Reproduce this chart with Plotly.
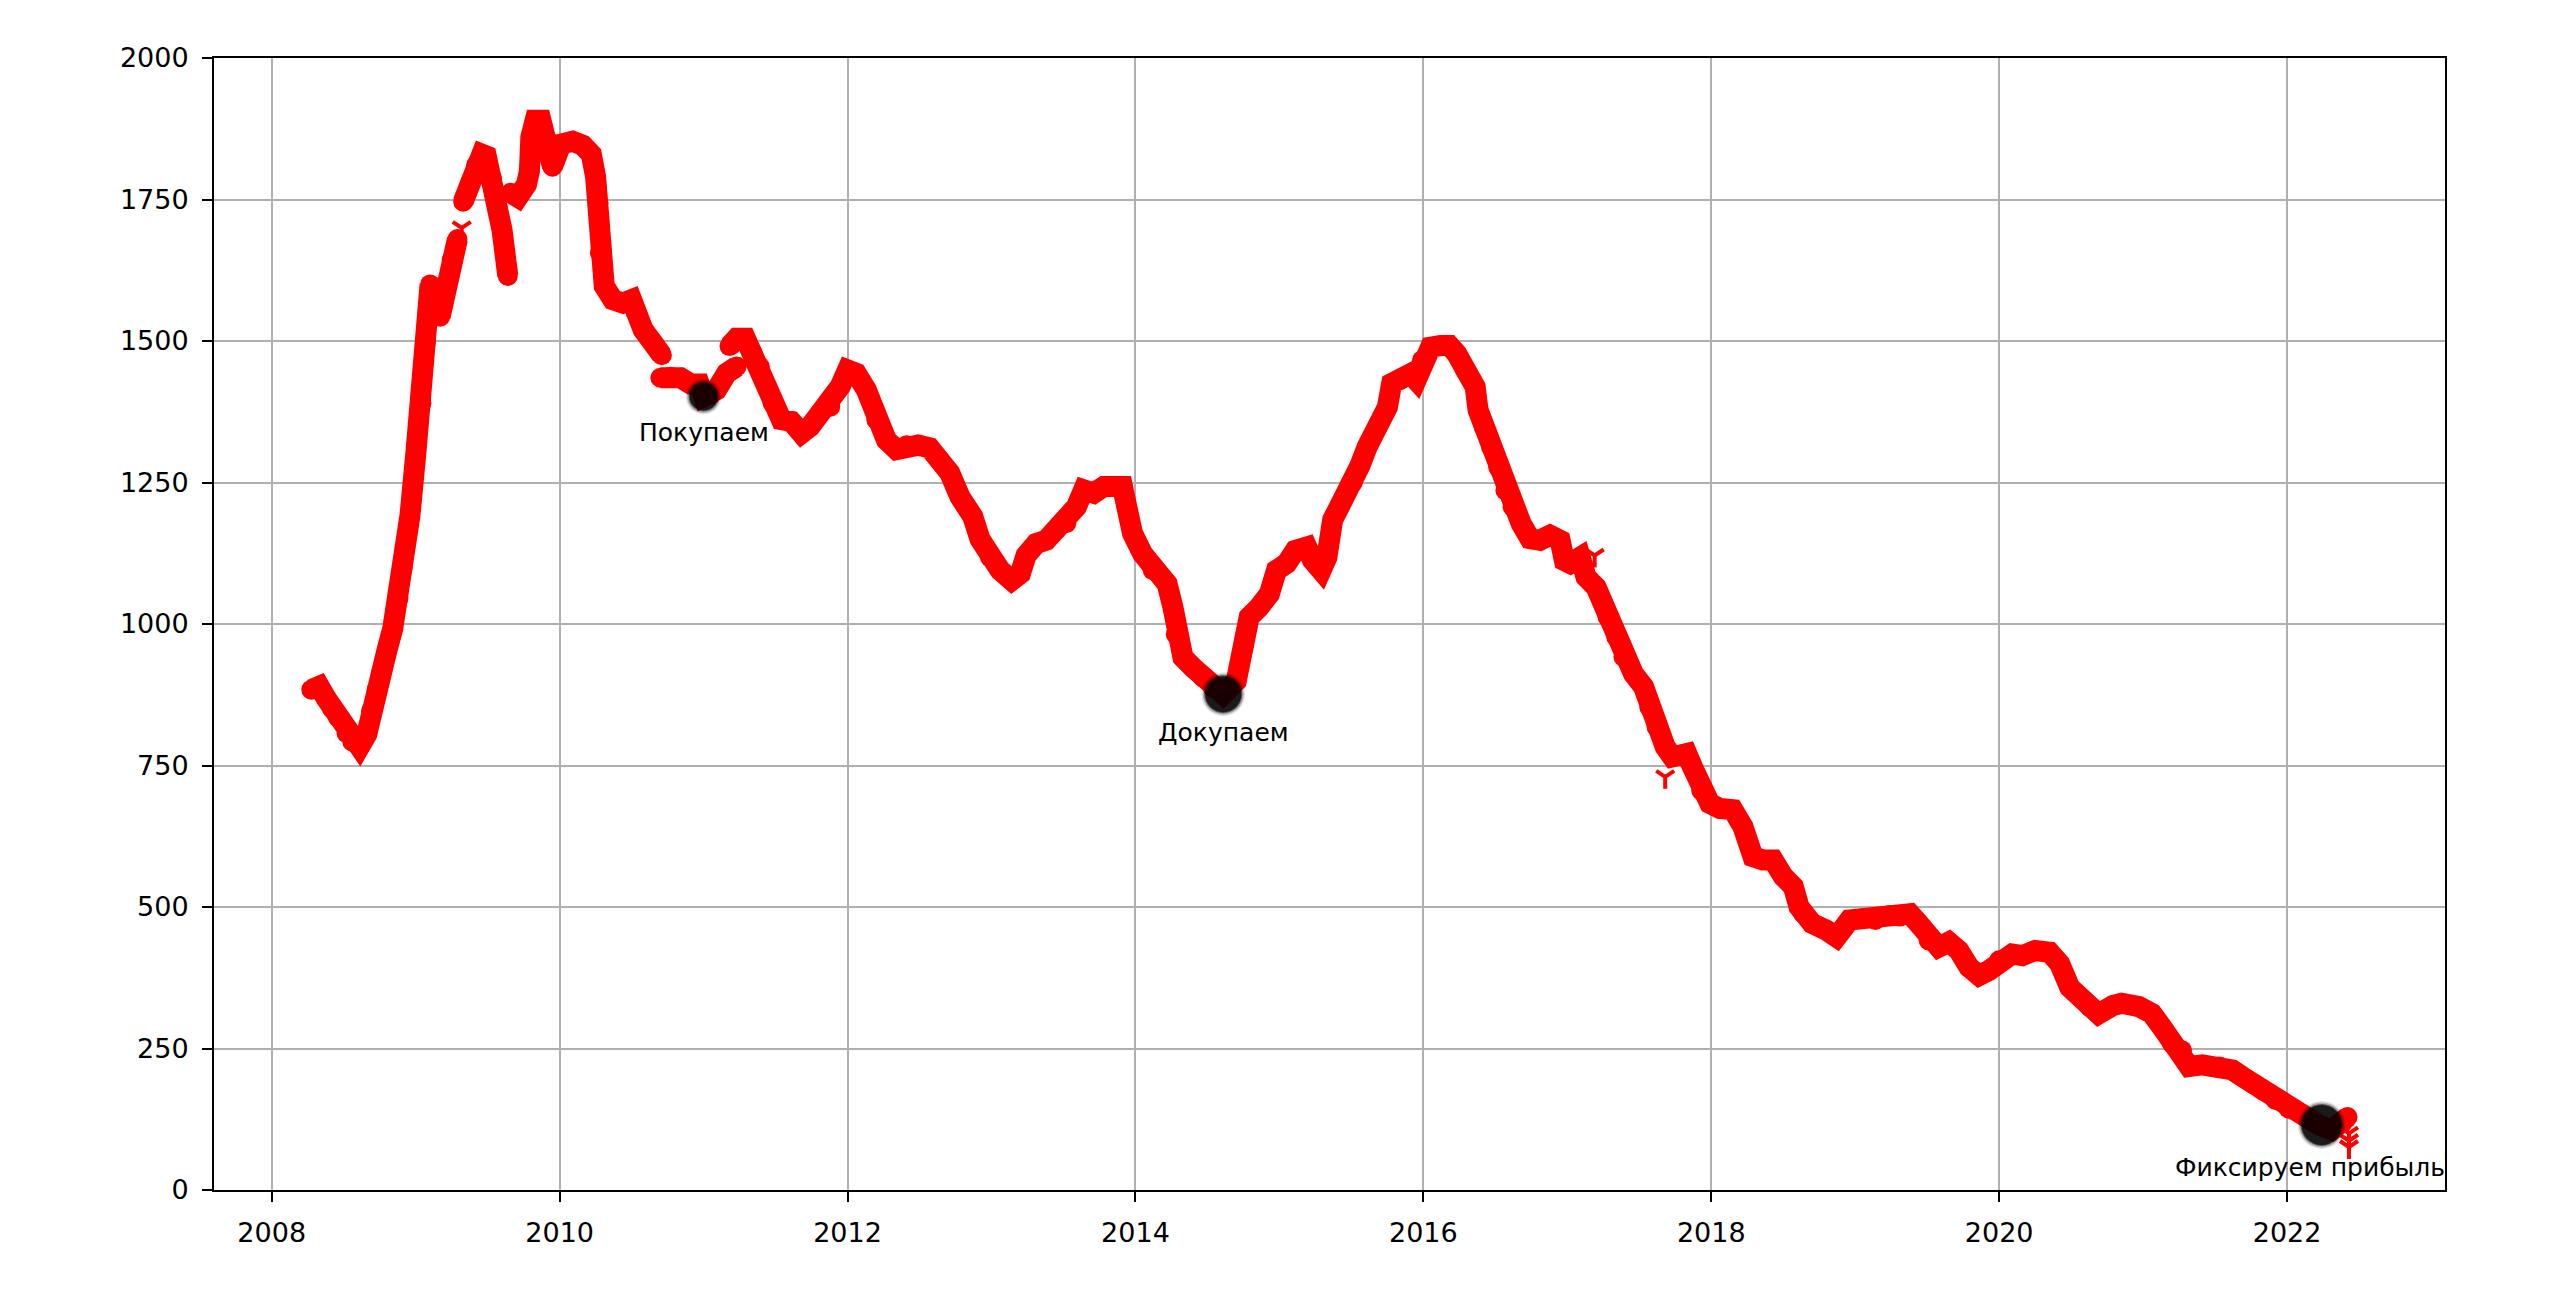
import plotly.graph_objects as go

# ---- data ----
# price series (fractional year, value); None marks a gap in the series
years = [
    2008.275, 2008.33, 2008.38, 2008.42, 2008.46, 2008.52, 2008.56, 2008.61, 2008.66, 2008.69,
    2008.73, 2008.76, 2008.80, 2008.84, 2008.88, 2008.91, 2008.96, 2009.00, 2009.04, 2009.07,
    2009.10, 2009.13, 2009.17, 2009.20, 2009.25, 2009.29, None,
    2009.33, 2009.36, 2009.38, 2009.42, 2009.46, 2009.49, 2009.53, 2009.56, 2009.60, 2009.64, None,
    2009.66, 2009.71, 2009.77, 2009.79, 2009.80, 2009.83, 2009.87, 2009.91, 2009.95, 2010.01,
    2010.09, 2010.16, 2010.22, 2010.25, 2010.27, 2010.28, 2010.31, 2010.37, 2010.44, 2010.50,
    2010.53, 2010.58, 2010.65, 2010.71, None,
    2010.70, 2010.77, 2010.84, 2010.91, 2010.97, 2011.00, 2011.05, 2011.09, 2011.16, 2011.23, None,
    2011.18, 2011.23, 2011.29, 2011.34, 2011.39, 2011.44, 2011.48, 2011.54, 2011.61, 2011.68,
    2011.74, 2011.81, 2011.88, 2011.95, 2012.00, 2012.06, 2012.13, 2012.20, 2012.27, 2012.34,
    2012.41, 2012.49, 2012.57, 2012.64, 2012.71, 2012.78, 2012.87, 2012.92, 2012.99, 2013.06,
    2013.14, 2013.20, 2013.24, 2013.31, 2013.38, 2013.45, 2013.52, 2013.59, 2013.64, 2013.71,
    2013.78, 2013.84, 2013.91, 2013.94, 2013.98, 2014.05, 2014.12, 2014.22, 2014.26, 2014.28,
    2014.33, 2014.40, 2014.47, 2014.54, 2014.61, 2014.70, 2014.75, 2014.79, 2014.86, 2014.93,
    2014.98, 2015.05, 2015.11, 2015.19, 2015.23, 2015.29, 2015.33, 2015.37, 2015.44, 2015.51,
    2015.56, 2015.61, 2015.68, 2015.75, 2015.78, 2015.84, 2015.91, 2015.95, 2015.99, 2016.05,
    2016.12, 2016.18, 2016.23, 2016.29, 2016.36, 2016.38, 2016.42, 2016.47, 2016.52, 2016.57,
    2016.62, 2016.68, 2016.74, 2016.81, 2016.88, 2016.95, 2016.98, 2017.02, 2017.09, 2017.13,
    2017.20, 2017.25, 2017.28, 2017.34, 2017.39, 2017.46, 2017.53, 2017.57, 2017.62, 2017.68,
    2017.73, 2017.83, 2017.87, 2017.93, 2017.99, 2018.06, 2018.15, 2018.22, 2018.29, 2018.36,
    2018.43, 2018.50, 2018.57, 2018.61, 2018.64, 2018.70, 2018.80, 2018.87, 2018.96, 2019.05,
    2019.14, 2019.24, 2019.31, 2019.38, 2019.44, 2019.51, 2019.58, 2019.65, 2019.72, 2019.79,
    2019.86, 2019.93, 2020.00, 2020.09, 2020.16, 2020.25, 2020.35, 2020.42, 2020.49, 2020.56,
    2020.63, 2020.69, 2020.79, 2020.85, 2020.97, 2021.06, 2021.13, 2021.20, 2021.27, 2021.32,
    2021.41, 2021.53, 2021.62, 2021.69, 2021.76, 2021.83, 2021.92, 2022.01, 2022.10, 2022.22,
    2022.31, 2022.38, 2022.42,
]
values = [
    884, 890, 868, 850, 835, 807, 792, 783, 805, 846,
    884, 915, 953, 991, 1045, 1099, 1191, 1298, 1390, 1497,
    1600, 1589, 1543, 1589, 1643, 1680, None,
    1746, 1765, 1781, 1811, 1830, 1827, 1788, 1742, 1696, 1615, None,
    1762, 1754, 1777, 1800, 1860, 1890, 1890, 1857, 1808, 1848,
    1853, 1846, 1830, 1790, 1744, 1656, 1597, 1573, 1567, 1573,
    1550, 1520, 1496, 1475, None,
    1435, 1437, 1435, 1424, 1424, 1402, 1405, 1414, 1443, 1455, None,
    1491, 1505, 1505, 1479, 1455, 1420, 1390, 1361, 1358, 1337,
    1349, 1373, 1384, 1420, 1449, 1443, 1414, 1361, 1325, 1308,
    1316, 1316, 1311, 1290, 1267, 1225, 1190, 1150, 1118, 1095,
    1077, 1089, 1121, 1142, 1148, 1166, 1178, 1207, 1237, 1231,
    1243, 1243, 1243, 1207, 1160, 1124, 1095, 1071, 1030, 982,
    941, 923, 905, 887, 876, 899, 959, 1012, 1030, 1053,
    1095, 1107, 1130, 1136, 1113, 1095, 1118, 1184, 1219, 1250,
    1280, 1313, 1348, 1383, 1425, 1431, 1442, 1431, 1466, 1489,
    1492, 1492, 1478, 1448, 1419, 1378, 1348, 1313, 1277, 1236,
    1207, 1177, 1151, 1148, 1157, 1148, 1112, 1107, 1118, 1083,
    1065, 1036, 1012, 977, 942, 912, 889, 853, 818, 783,
    765, 771, 747, 706, 683, 674, 672, 642, 589, 583,
    583, 554, 536, 500, 488, 471, 459, 447, 477, 480,
    477, 486, 483, 488, 471, 441, 429, 438, 423, 394,
    379, 388, 406, 417, 414, 423, 420, 400, 358, 341,
    323, 311, 326, 330, 324, 312, 288, 259, 247, 218,
    221, 218, 212, 200, 188, 176, 159, 144, 135, 115,
    106, 117, 129,
]

# stray single readings (drawn as lone markers)
stray_years = [2009.32, 2017.19, 2017.68, 2022.43, 2022.43, 2022.43]
stray_values = [1700, 1121, 730, 100, 87, 76]

# trade events
event_years = [2011.00, 2014.61, 2022.24]
event_values = [1402, 876, 115]
event_labels = ["Покупаем", "Докупаем", "Фиксируем прибыль"]

x_ticks = [2008, 2010, 2012, 2014, 2016, 2018, 2020, 2022]
y_ticks = [0, 250, 500, 750, 1000, 1250, 1500, 1750, 2000]

# ---- styling ----
FONT = "DejaVu Sans"
event_sizes = [28, 36, 40]
label_offsets = [(0, -36), (0, -38), (-12, -43)]

fig = go.Figure()

fig.add_trace(go.Scatter(
    x=years, y=values, mode="lines+markers",
    line=dict(color="#ff0000", width=21),
    marker=dict(color="#ff0000", size=20, symbol="circle", line=dict(width=0)),
    connectgaps=False, hoverinfo="skip", showlegend=False,
))

fig.add_trace(go.Scatter(
    x=stray_years, y=stray_values, mode="markers",
    marker=dict(symbol="y-down", size=15, color="#ff0000",
                line=dict(color="#ff0000", width=4)),
    hoverinfo="skip", showlegend=False,
))

# soft-edged black blobs
for extra, alpha in [(8, 0.15), (5, 0.35), (2, 0.7), (0, 1.0)]:
    fig.add_trace(go.Scatter(
        x=event_years, y=event_values, mode="markers",
        marker=dict(color=f"rgba(0,0,0,{alpha})", size=[s + extra for s in event_sizes],
                    line=dict(width=0)),
        hoverinfo="skip", showlegend=False,
    ))

for xv, yv, txt, (dx, dy) in zip(event_years, event_values, event_labels, label_offsets):
    fig.add_annotation(
        x=xv, y=yv, text=txt, showarrow=False,
        xanchor="center", yanchor="middle", xshift=dx, yshift=dy,
        font=dict(family=FONT, size=25, color="black"),
    )

axis_common = dict(
    showline=True, linecolor="black", linewidth=2, mirror=True,
    ticks="outside", ticklen=10, tickwidth=2, tickcolor="black",
    showgrid=True, gridcolor="#b0b0b0", gridwidth=2,
    zeroline=False, tickfont=dict(family=FONT, size=27, color="black"),
    ticklabelstandoff=8,
)

fig.update_xaxes(range=[2007.599, 2023.097], tickmode="array", tickvals=x_ticks,
                 ticktext=[str(t) for t in x_ticks], **axis_common)
fig.update_yaxes(range=[0, 2000], tickmode="array", tickvals=y_ticks,
                 ticktext=[str(t) for t in y_ticks], **axis_common)

fig.update_layout(
    width=2568, height=1290, autosize=False,
    margin=dict(l=214, r=123, t=58, b=100, pad=0),
    paper_bgcolor="white", plot_bgcolor="white",
    font=dict(family=FONT, color="black"),
)

fig.write_html("out.html", config={"displayModeBar": False},
               post_script="document.body.style.margin='0';document.body.style.overflow='hidden';")
